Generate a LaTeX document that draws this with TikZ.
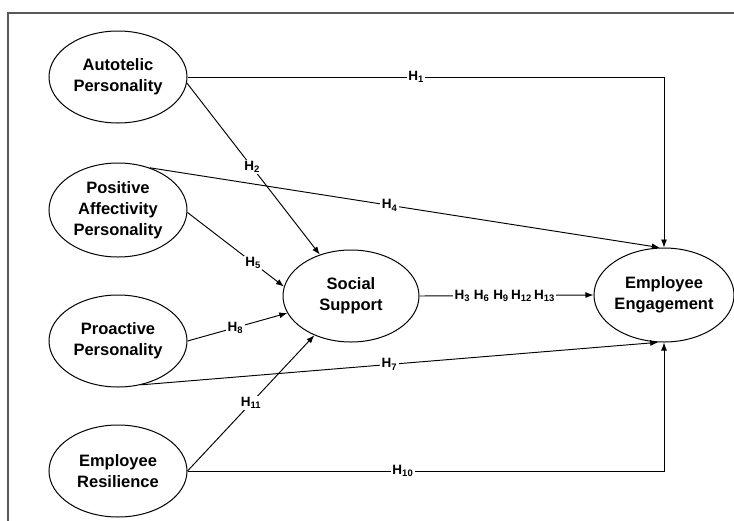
\documentclass[tikz,border=0pt]{standalone}
\usepackage{fontspec}
\setmainfont{Liberation Sans}
\usetikzlibrary{shapes.geometric,arrows.meta}
\tikzset{
  construct/.style={ellipse, draw, line width=1pt, inner sep=0pt,
    minimum width=138pt, minimum height=92pt, align=center,
    font=\fontsize{16.5}{21}\selectfont\bfseries},
  path/.style={line width=0.95pt},
  arr/.style={path, -{Latex[length=8pt,width=6pt]}},
  hyp/.style={fill=white, inner sep=1.5pt, font=\fontsize{13.5}{15}\selectfont\bfseries},
  frameline/.style={draw=black!65, line width=1.8pt}
}
\begin{document}
\begin{tikzpicture}[x=1pt,y=-1pt]
\useasboundingbox (0,0) rectangle (734,520);
% outer frame (only top and left edges fall inside the page)
\draw[frameline] (8,522) -- (8,13) -- (736,13);

% constructs
\node[construct] (aut) at (118,77)  {Autotelic\\Personality};
\node[construct, minimum height=94pt] (paf) at (118,210) {Positive\\Affectivity\\Personality};
\node[construct] (pro) at (118,341) {Proactive\\Personality};
\node[construct] (res) at (118,471) {Employee\\Resilience};
\node[construct, minimum width=136pt] (ss)  at (351,296) {Social\\Support};
\node[construct, minimum width=138pt, minimum height=94pt] (eng) at (664,295) {Employee\\Engagement};

% direct paths to engagement
\draw[arr] (aut.east) -| node[hyp, pos=0.24] {H\textsubscript{1}} (eng.north);
\draw[arr] (paf.53) -- node[hyp, pos=0.47] {H\textsubscript{4}} (eng.95);
\draw[arr] (pro.-62) -- node[hyp, pos=0.48] {H\textsubscript{7}} (eng.-97);
\draw[arr] (res.east) -| node[hyp, pos=0.226] {H\textsubscript{10}} (eng.south);

% paths to social support
\draw[arr] (aut.-5) -- node[hyp, pos=0.49] {H\textsubscript{2}} (ss.127);
\draw[arr] (paf.-2) -- node[hyp, pos=0.68] {H\textsubscript{5}} (ss.172);
\draw[arr] (pro.east) -- node[hyp, pos=0.48] {H\textsubscript{8}} (ss.-165);
\draw[arr] (res.east) -- node[hyp, pos=0.5] {H\textsubscript{11}} (ss.-133);

% mediated path
\draw[arr] (ss.east) -- node[hyp, pos=0.49] {H\textsubscript{3}\ H\textsubscript{6}\ H\textsubscript{9}\,H\textsubscript{12}\,H\textsubscript{13}} (eng.west);
\end{tikzpicture}
\end{document}
